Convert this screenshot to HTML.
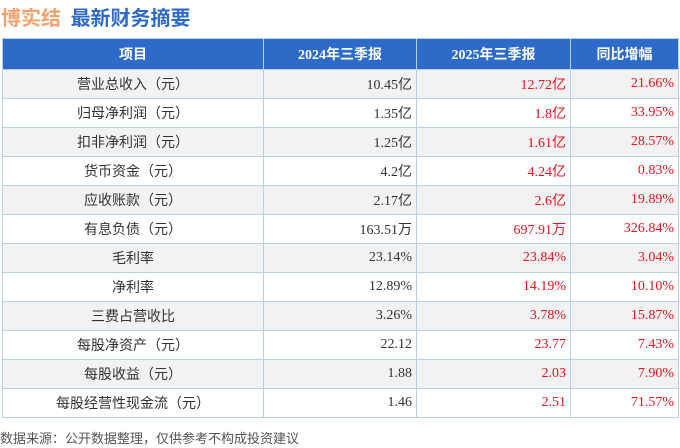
<!DOCTYPE html>
<html><head><meta charset="utf-8"><style>
body{margin:0;width:680px;height:448px;background:#fff;font-family:"Liberation Serif","Noto Sans CJK SC",serif;position:relative;overflow:hidden}
.t{position:absolute;top:2px;left:1px;font:bold 20px "Liberation Sans","Noto Sans CJK SC",sans-serif}
table{position:absolute;left:2px;top:38px;border-collapse:collapse;width:677px}
td,th{border:1px solid #b8d0ea;height:28px;padding:0 4px;font-size:14px;color:#333}
th{background:#2e6bc9;color:#fff;font-weight:bold;height:30px;font-size:14px}
tr:nth-child(even) td{background:#f2f2f2}
td{text-align:right}
td:first-child{text-align:center;font-family:"Liberation Sans","Noto Sans CJK SC",sans-serif}
.r{color:#e8141e}
.f{position:absolute;left:0;top:428px;font:13px "Liberation Sans","Noto Sans CJK SC",sans-serif;color:#555}
</style></head><body>
<div class="t"><span style="color:#f4a270">博实结</span> <span style="color:#2e6bc9;margin-left:4px">最新财务摘要</span></div>
<table>
<tr><th style="width:252px">项目</th><th style="width:144px">2024年三季报</th><th style="width:145px">2025年三季报</th><th>同比增幅</th></tr>
<tr><td>营业总收入（元）</td><td>10.45亿</td><td class="r">12.72亿</td><td class="r">21.66%</td></tr>
<tr><td>归母净利润（元）</td><td>1.35亿</td><td class="r">1.8亿</td><td class="r">33.95%</td></tr>
<tr><td>扣非净利润（元）</td><td>1.25亿</td><td class="r">1.61亿</td><td class="r">28.57%</td></tr>
<tr><td>货币资金（元）</td><td>4.2亿</td><td class="r">4.24亿</td><td class="r">0.83%</td></tr>
<tr><td>应收账款（元）</td><td>2.17亿</td><td class="r">2.6亿</td><td class="r">19.89%</td></tr>
<tr><td>有息负债（元）</td><td>163.51万</td><td class="r">697.91万</td><td class="r">326.84%</td></tr>
<tr><td>毛利率</td><td>23.14%</td><td class="r">23.84%</td><td class="r">3.04%</td></tr>
<tr><td>净利率</td><td>12.89%</td><td class="r">14.19%</td><td class="r">10.10%</td></tr>
<tr><td>三费占营收比</td><td>3.26%</td><td class="r">3.78%</td><td class="r">15.87%</td></tr>
<tr><td>每股净资产（元）</td><td>22.12</td><td class="r">23.77</td><td class="r">7.43%</td></tr>
<tr><td>每股收益（元）</td><td>1.88</td><td class="r">2.03</td><td class="r">7.90%</td></tr>
<tr><td>每股经营性现金流（元）</td><td>1.46</td><td class="r">2.51</td><td class="r">71.57%</td></tr>
</table>
<div class="f">数据来源：公开数据整理，仅供参考不构成投资建议</div>
</body></html>
